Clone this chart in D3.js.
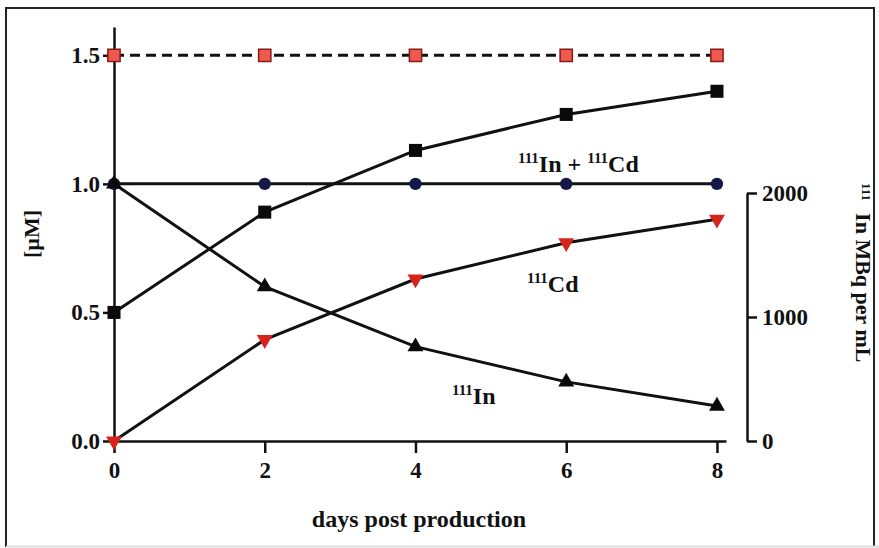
<!DOCTYPE html>
<html>
<head>
<meta charset="utf-8">
<script src="https://cdn.jsdelivr.net/npm/d3@7"></script>
<style>
  body { margin: 0; background: #fff; }
  svg text { font-family: "Liberation Serif", "DejaVu Serif", serif !important; font-weight: bold; fill: #111; }
</style>
</head>
<body>
<div id="chart"></div>
<script>
// data
var days = [0, 2, 4, 6, 8];
var totalConc = [1.5, 1.5, 1.5, 1.5, 1.5];        // red squares, dashed
var blackSquares = [0.5, 0.89, 1.13, 1.27, 1.36];  // black squares
var inPlusCd = [1.0, 1.0, 1.0, 1.0, 1.0];          // blue circles
var in111 = [1.0, 0.60, 0.367, 0.23, 0.136];       // black triangles
var cd111 = [0.0, 0.394, 0.63, 0.771, 0.862];      // red down triangles
var leftTicks = [0, 0.5, 1.0, 1.5];
var rightTicks = [0, 1000, 2000];
var xTicks = [0, 2, 4, 6, 8];

var svgWidth = 879, svgHeight = 548;
var serif = "'Liberation Serif', 'DejaVu Serif', serif";

var svg = d3.select("#chart").append("svg")
  .attr("width", svgWidth)
  .attr("height", svgHeight)
  .attr("font-family", serif);

// frame
svg.append("path")
  .attr("d", "M6,547V8H874V547")
  .attr("fill", "none")
  .attr("stroke", "#222")
  .attr("stroke-width", 2);
svg.append("line")
  .attr("x1", 6).attr("x2", 879).attr("y1", 546.5).attr("y2", 546.5)
  .attr("stroke", "#ddd").attr("stroke-width", 2);

var x = d3.scaleLinear().domain([0, 8.12]).range([114, 726]);
var y = d3.scaleLinear().domain([0, 1.61]).range([441, 27]);
var yRight = d3.scaleLinear().domain([0, 2000]).range([441, 193]);

// axes
var bottomAxis = d3.axisBottom(x).tickValues(xTicks).tickSize(12).tickSizeOuter(0).tickPadding(9).tickFormat(d3.format("d"));
var leftAxis = d3.axisLeft(y).tickValues(leftTicks).tickSize(11).tickSizeOuter(0).tickPadding(3).tickFormat(d3.format(".1f"));
var rightAxis = d3.axisRight(yRight).tickValues(rightTicks).tickSize(10).tickSizeOuter(0).tickPadding(5).tickFormat(d3.format("d"));

function styleAxis(g) {
  g.attr("font-family", serif).attr("font-size", 23);
  g.selectAll("path, line").attr("stroke", "#111").attr("stroke-width", 2.5);
  g.selectAll("text").style("font-family", serif).style("font-size", "23px").style("font-weight", "bold");
}

svg.append("g").attr("transform", "translate(0,441)").call(bottomAxis).call(styleAxis);
svg.append("g").attr("transform", "translate(114,0)").call(leftAxis).call(styleAxis);
svg.append("g").attr("transform", "translate(747,0)").call(rightAxis).call(styleAxis);

// lines
var line = d3.line().x(d => x(d[0])).y(d => y(d[1]));
function pairs(vals) { return days.map((d, i) => [d, vals[i]]); }

svg.append("path").datum(pairs(totalConc)).attr("d", line)
  .attr("fill", "none").attr("stroke", "#111").attr("stroke-width", 3).attr("stroke-dasharray", "10,6");
[blackSquares, inPlusCd, in111, cd111].forEach(function(vals) {
  svg.append("path").datum(pairs(vals)).attr("d", line)
    .attr("fill", "none").attr("stroke", "#111").attr("stroke-width", 3);
});

// markers
function markers(vals, type, size, fill, stroke, rot) {
  svg.append("g").selectAll("path")
    .data(pairs(vals))
    .enter()
    .append("path")
    .attr("d", d3.symbol().type(type).size(size))
    .attr("transform", d => `translate(${x(d[0])},${y(d[1])}) rotate(${rot})`)
    .attr("fill", fill)
    .attr("stroke", stroke)
    .attr("stroke-width", 1.5);
}
markers(totalConc, d3.symbolSquare, 150, "#ee5a4f", "#8a1a14", 0);
markers(blackSquares, d3.symbolSquare, 170, "#0a0a0a", "none", 0);
markers(inPlusCd, d3.symbolCircle, 120, "#141848", "none", 0);
markers(in111, d3.symbolTriangle, 110, "#0a0a0a", "none", 0);
markers(cd111, d3.symbolTriangle, 110, "#d8231c", "none", 180);

// annotations: [superscript, main] parts
function label(xp, yp, parts) {
  var t = svg.append("text").attr("x", xp).attr("y", yp).style("font-size", "24px");
  parts.forEach(function(p) {
    t.append("tspan").style("font-size", "15px").attr("dy", -9).text(p.sup);
    t.append("tspan").attr("dy", 9).text(p.text);
  });
}
label(518, 172, [{sup: "111", text: "In + "}, {sup: "111", text: "Cd"}]);
label(527, 292, [{sup: "111", text: "Cd"}]);
label(452, 404, [{sup: "111", text: "In"}]);

// axis titles
svg.append("text")
  .attr("x", 419).attr("y", 527)
  .attr("text-anchor", "middle")
  .style("font-size", "24px")
  .text("days post production");

svg.append("text")
  .attr("transform", "translate(39,234) rotate(-90)")
  .attr("text-anchor", "middle")
  .style("font-size", "22px")
  .text("[µM]");

var rt = svg.append("text")
  .attr("transform", "translate(856,183) rotate(90)")
  .style("font-size", "22px");
rt.append("tspan").style("font-size", "13px").attr("dy", -6).text("111");
rt.append("tspan").attr("dy", 6).attr("dx", 12).text("In MBq per mL");
</script>
</body>
</html>
